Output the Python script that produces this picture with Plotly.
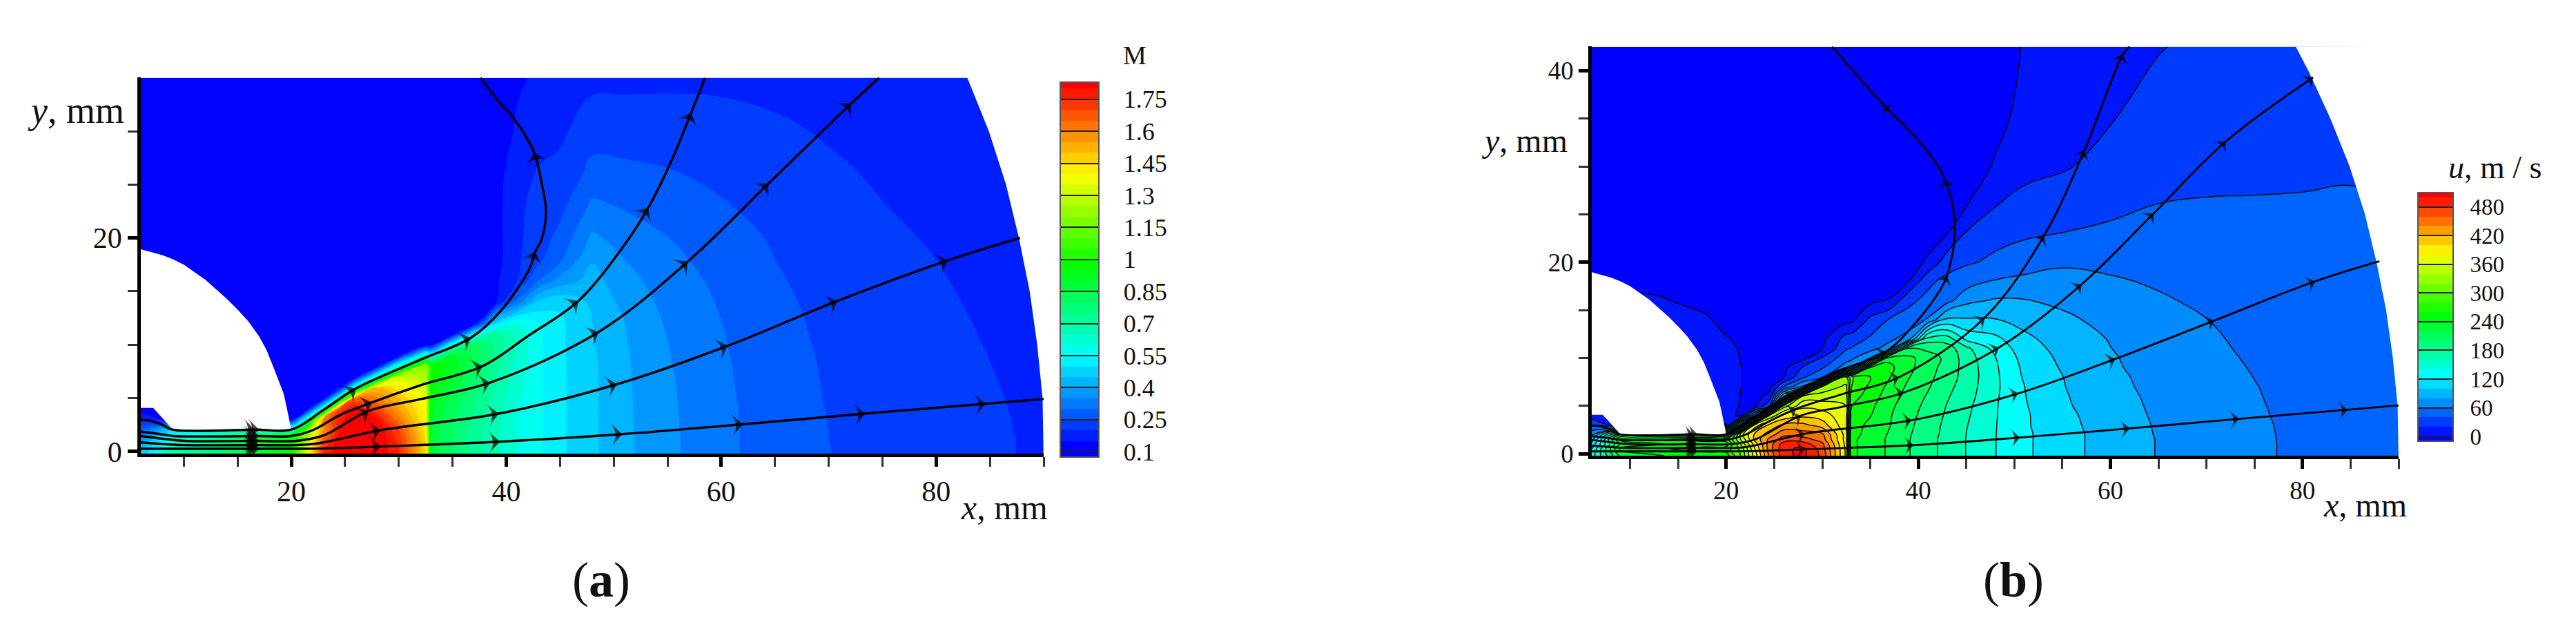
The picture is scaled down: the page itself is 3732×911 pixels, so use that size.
import plotly.graph_objects as go

# ---------- grids (mm) ----------
x_a = [6, 9, 20, 21.5, 23, 24.5, 26, 28, 30, 32.5, 33, 35, 37, 39, 41, 43, 45, 48, 51, 55, 60, 65, 70, 75, 80, 85, 90]
y_a = [-.2, .5, 1, 1.5, 2, 3, 4, 5, 6, 7, 8, 9, 10, 11, 12, 14, 16, 18, 20, 23, 26, 30, 35]

# Mach number, one row per y_a value
mach = [
    [.45, .70, .95, 1.35, 1.75, 1.85, 1.85, 1.85, 1.75, 1.45, .88, .80, .72, .66, .60, .56, .51, .46, .412, .362, .312, .277, .2505, .236, .22, .2065, .193],
    [.42, .65, .95, 1.32, 1.72, 1.85, 1.85, 1.85, 1.75, 1.45, .88, .80, .72, .66, .60, .56, .51, .46, .412, .362, .312, .277, .2505, .236, .22, .2065, .193],
    [.38, .62, .95, 1.28, 1.68, 1.85, 1.85, 1.85, 1.74, 1.45, .88, .80, .72, .66, .60, .56, .51, .46, .412, .362, .312, .277, .25, .236, .22, .2065, .193],
    [.33, .55, .92, 1.22, 1.62, 1.82, 1.85, 1.85, 1.72, 1.44, .88, .80, .72, .66, .60, .56, .51, .46, .412, .362, .312, .277, .25, .236, .22, .2062, .193],
    [.28, .50, .70, 1.18, 1.58, 1.80, 1.85, 1.85, 1.70, 1.42, .88, .80, .73, .66, .60, .56, .51, .46, .411, .361, .312, .277, .25, .2355, .2195, .206, .192],
    [.20, .12, .12, .65, 1.60, 1.78, 1.85, 1.80, 1.62, 1.40, .90, .80, .74, .67, .60, .56, .51, .46, .411, .361, .311, .2765, .249, .235, .219, .2052, .192],
    [.12, .12, .12, .12, .65, 1.72, 1.80, 1.70, 1.55, 1.38, .92, .82, .75, .67, .60, .56, .51, .46, .41, .36, .311, .276, .248, .234, .2185, .2045, .191],
    [.12, .12, .12, .12, .12, .65, 1.65, 1.60, 1.50, 1.35, .95, .85, .76, .68, .61, .56, .51, .46, .41, .359, .31, .2755, .247, .2333, .218, .2035, .191],
    [.12, .12, .12, .12, .12, .12, .65, 1.50, 1.42, 1.30, .97, .87, .78, .69, .62, .56, .51, .46, .409, .358, .309, .275, .246, .2325, .217, .2025, .19],
    [.12, .12, .12, .12, .12, .12, .12, .65, 1.30, 1.25, 1.00, .90, .80, .70, .62, .56, .51, .46, .409, .357, .308, .274, .245, .232, .2162, .2015, .19],
    [.12, .12, .12, .12, .12, .12, .12, .12, .65, 1.20, 1.00, .92, .82, .72, .63, .56, .51, .46, .408, .355, .307, .273, .244, .231, .2155, .2005, .189],
    [.12, .12, .12, .12, .12, .12, .12, .12, .12, .65, .60, .90, .84, .73, .64, .56, .51, .458, .407, .353, .3055, .2715, .2425, .2298, .2143, .1993, .189],
    [.12, .12, .12, .12, .12, .12, .12, .12, .12, .12, .12, .60, .82, .74, .64, .56, .51, .455, .405, .351, .304, .27, .241, .2285, .213, .198, .188],
    [.12, .12, .12, .12, .12, .12, .12, .12, .12, .12, .12, .12, .55, .72, .64, .56, .51, .453, .403, .348, .3025, .268, .2395, .2272, .2118, .1965, .188],
    [.12, .12, .12, .12, .12, .12, .12, .12, .12, .12, .12, .12, .13, .50, .60, .55, .51, .45, .401, .344, .301, .266, .238, .226, .2105, .195, .187],
    [.12, .12, .12, .12, .12, .12, .12, .12, .12, .12, .12, .12, .12, .14, .32, .46, .49, .44, .385, .335, .295, .262, .234, .222, .207, .192, .185],
    [.12, .12, .12, .12, .12, .12, .12, .12, .12, .12, .12, .12, .12, .14, .20, .30, .37, .42, .368, .325, .288, .256, .23, .218, .2035, .189, .183],
    [.12, .12, .12, .12, .12, .12, .12, .12, .12, .12, .12, .12, .12, .13, .19, .24, .29, .395, .35, .313, .28, .25, .226, .213, .20, .186, .181],
    [.12, .12, .12, .12, .12, .12, .12, .12, .12, .12, .12, .12, .12, .13, .19, .225, .265, .36, .328, .301, .27, .245, .222, .208, .196, .183, .179],
    [.12, .12, .12, .12, .12, .12, .12, .12, .12, .12, .12, .12, .12, .13, .19, .215, .235, .31, .295, .276, .254, .235, .215, .201, .19, .179, .175],
    [.12, .12, .12, .12, .12, .12, .12, .12, .12, .12, .12, .12, .12, .13, .18, .205, .215, .265, .262, .254, .24, .224, .207, .195, .185, .175, .171],
    [.12, .12, .12, .12, .12, .12, .12, .12, .12, .12, .12, .12, .12, .125, .155, .18, .19, .23, .228, .224, .218, .207, .196, .186, .178, .17, .167],
    [.12, .12, .12, .12, .12, .12, .12, .12, .12, .12, .12, .12, .12, .12, .145, .155, .165, .185, .187, .19, .19, .187, .182, .176, .17, .164, .16],
]

x_b = [6, 9, 12, 15, 18, 20, 21.5, 23, 24.5, 26, 28, 30, 32.5, 33, 35, 37, 39, 41, 43, 45, 48, 51, 55, 60, 65, 70, 75, 80, 85, 90]
y_b = [-.2, .5, 1, 1.5, 2, 3, 4, 5, 6, 7, 8, 9, 10, 11, 12, 14, 16, 18, 20, 23, 26, 30, 35, 42.5]

# axial velocity, one column per x_b value
velocity = [
    [130, 120.5, 105, 90, 75, 40.5, 10, -6, -6, -6, -6, -6, -6, -6, -6, -6, -6, -6, -6, -6, -6, -6, -6, -6],
    [225, 245, 225, 245, 200, 6, 6, 6, 6, 6, 6, 6, 6, 6, 6, 3, 3, -6, -6, -6, -6, -6, -6, -6],
    [235, 255, 235, 255, 200, 6, 6, 6, 6, 6, 6, 6, 6, 6, 6, 6, 3, -6, -6, -6, -6, -6, -6, -6],
    [245, 262, 245, 262, 200, 6, 6, 6, 6, 6, 6, 6, 6, 6, 6, 5, -1, -6, -6, -6, -6, -6, -6, -6],
    [250, 268, 250, 268, 200, 6, 6, 6, 6, 6, 6, 6, 6, 6, 6, 2, -6, -6, -6, -6, -6, -6, -6, -6],
    [250, 270, 250, 270, 200, -1, 6, 8, 12, 14, 15, 15, 12, 8, 1, -6, -6, -6, -6, -6, -6, -6, -6, -6],
    [300, 305, 320, 340, 350, 150, -3, -1.5, -.5, .3, .5, .3, -1, -3, -3, -6, -6, -6, -6, -6, -6, -6, -6, -6],
    [370, 380, 390, 405, 405, 370, 100, -5, -6, -6, -6, -6, -6, -6, -6, -6, -6, -6, -6, -6, -6, -6, -6, -6],
    [445, 450, 450, 445, 430, 405, 340, 40, 5, -6, -6, -6, -6, -6, -6, -6, -6, -6, -6, -6, -6, -6, -6, -6],
    [495, 495, 490, 470, 455, 425, 385, 330, 120, 40, 0, -6, -6, -6, -6, -6, -6, -6, -6, -6, -6, -6, -6, -6],
    [505, 505, 490, 470, 450, 425, 395, 375, 345, 85, 37, 22, -6, -6, -6, -6, -6, -6, -6, -6, -6, -6, -6, -6],
    [475, 470, 465, 450, 445, 410, 390, 370, 350, 325, 55, 38, 22, -2, -6, -6, -6, -6, -6, -6, -6, -6, -6, -6],
    [375, 375, 372, 370, 370, 365, 365, 360, 350, 345, 325, 70, 52, 38, 28, -6, -6, -6, -6, -6, -6, -6, -6, -6],
    [245, 245, 245, 245, 248, 250, 255, 261, 270, 281, 285, 75, 55, 41, 30, -6, -6, -6, -6, -6, -6, -6, -6, -6],
    [230, 230, 230, 230, 232, 235, 241, 245, 250, 255, 261, 242, 81, 52, 43, 25, -6, -6, -6, -6, -6, -6, -6, -6],
    [217, 217, 217, 217, 218, 221, 222, 225, 230, 235, 241, 245, 235, 70, 55, 42, 1, -6, -6, -6, -6, -6, -6, -6],
    [201, 201, 201, 201, 202, 204, 206, 208, 212, 216, 221, 225, 225, 201, 70, 47, 36, 0, -6, -6, -6, -6, -6, -6],
    [187, 187, 187, 187, 188, 190, 192, 195, 198, 202, 205, 208, 210, 195, 170, 62, 45, 36, 2, -6, -6, -6, -6, -6],
    [173, 173, 173, 173, 174, 175, 177, 179, 182, 186, 190, 192, 195, 190, 170, 105, 53, 45, 32, -1, -6, -6, -6, -6],
    [159.5, 159.5, 159.5, 159.5, 159.8, 161, 163, 165, 168, 170, 172, 172, 170, 165, 135, 102, 75, 50, 38, 22, -1, -6, -6, -6],
    [140.5, 140.5, 140.5, 140.5, 140.7, 141, 141.5, 142, 143, 144, 144, 143, 141, 133, 125, 101, 82, 62, 43, 35, 19, 1, -3, -8],
    [124, 124, 124, 124, 124, 123, 123, 122, 121, 120.5, 118, 116, 113, 110, 105, 93, 81, 67, 47, 38, 27, 13, 3, 1],
    [107, 107, 107, 107, 107, 106, 105, 103, 102, 101, 100.4, 98, 96, 93, 90, 84, 76, 67, 57, 40.3, 31, 18, 9, 4],
    [92, 92, 92, 92, 92, 91, 90, 89, 88, 86, 85, 83, 82, 80.3, 79, 74, 68, 62, 56, 44, 35, 27, 19, 10],
    [79, 79, 79, 79, 78.5, 78, 77, 76, 75, 74, 73, 72, 71, 70, 68, 66, 62, 58, 54, 46, 40.3, 33, 27, 19],
    [70, 70, 70, 70, 69.5, 69, 68.5, 68, 67.5, 67, 66, 65, 64, 63, 62.2, 60.2, 57, 54, 50.5, 46, 41, 36, 31, 24],
    [63, 63, 63, 62.9, 62.8, 62.5, 62, 61.5, 61, 60.5, 59.8, 59, 58.2, 57.4, 56.6, 55, 53, 51, 48, 45, 41, 37, 33, 27],
    [56.5, 56.5, 56.5, 56.5, 56.4, 56.2, 55.8, 55.5, 55.1, 54.7, 54.3, 53.8, 53.3, 52.7, 52.1, 50.5, 49, 47.4, 45.7, 43.3, 41, 38, 35, 29],
    [51.5, 51.5, 51.5, 51.5, 51.4, 51.2, 50.9, 50.6, 50.3, 50.1, 49.7, 49.4, 49.1, 48.7, 48.3, 47.4, 46.5, 45.5, 44.4, 42.6, 41, 39, 36, 30],
    [47, 47, 47, 47, 47, 47, 47, 46.7, 46.5, 46.3, 46.1, 45.9, 45.6, 45.3, 45, 44.4, 43.8, 43, 42, 41, 40.2, 38, 35, 30],
]

# solid wall and outer boundary of the domain
wall_x = [6, 7, 8, 9, 10, 11, 12, 13, 14, 15, 16, 17, 17.7, 18.3, 18.8, 19.3, 19.6, 19.8, 20, 9, 7.15, 6]
wall_y = [18.95, 18.7, 18.4, 18, 17.5, 16.8, 16.1, 15.2, 14.3, 13.3, 12.2, 10.8, 9.5, 8, 6.7, 5.4, 4, 3, 2.03, 2.03, 4.08, 4.08]
outer_x = [79.3, 80.6, 82.9, 84.9, 86.5, 87.7, 88.7, 89.4, 89.9, 90, 90, 96, 96]
outer_y = [42.5, 40, 35, 30, 25, 20, 15, 10, 5, 0, -1, -1, 42.6]

# streamlines: x, y, indices of the points carrying an arrowhead
stream_a = [
    ([6, 7, 8, 8.9, 16.6, 17, 20, 23, 26, 31.9, 36.7, 39.6, 42.2, 42.7, 43.3, 43.7, 43.3, 42.6, 40.7, 39.3, 37.6],
     [2.95, 2.85, 2.5, 2.05, 2.05, 2.05, 2.05, 3.9, 5.9, 8.55, 10.65, 13.3, 17.2, 18.7, 19.9, 22.5, 25.1, 28, 31.2, 32.8, 35],
     [4, 5, 8, 10, 13, 17]),
    ([6, 8, 9, 16.6, 17, 20, 22, 24.5, 27.5, 32, 37.8, 42, 46.7, 50.6, 53.2, 55.4, 57.2, 58.5],
     [1.85, 1.6, 1.45, 1.45, 1.45, 1.45, 2.0, 3.4, 4.6, 6.2, 8.0, 10.8, 14.1, 18.8, 22.8, 27.3, 31.7, 35],
     [3, 4, 8, 10, 12, 14, 16]),
    ([6, 8, 10, 16.6, 17, 20.5, 23, 27.2, 32, 38.5, 48.6, 56.9, 64.4, 72.1, 74.7],
     [1.45, 1.2, 1.0, 1.0, 1.0, 1.0, 1.5, 3.8, 4.9, 6.45, 11.2, 17.8, 25.1, 32.6, 35],
     [3, 4, 7, 9, 10, 11, 12, 13]),
    ([6, 8, 10, 16.6, 17, 22, 28.3, 39.3, 50.3, 60.6, 70.8, 81.1, 87.8],
     [.85, .7, .6, .6, .6, .7, 2.0, 3.55, 6.3, 9.9, 14.1, 17.9, 20],
     [3, 4, 6, 7, 8, 9, 10, 11]),
    ([6, 16.6, 17, 23, 28.3, 39.4, 50.8, 62, 73.4, 84.6, 90],
     [.25, .25, .25, .28, .47, .92, 1.63, 2.55, 3.55, 4.47, 4.92],
     [1, 2, 4, 5, 6, 7, 8, 9]),
]
stream_b = [
    ([6, 7, 8, 8.9, 16.6, 17, 20, 23, 27, 31, 36.6, 40, 42.2, 43, 43.8, 42.8, 40.1, 36.4, 31],
     [2.95, 2.85, 2.5, 2.05, 2.05, 2.05, 2.05, 3.9, 6.3, 8.4, 10.65, 14, 17, 18.6, 23.3, 28.6, 32.6, 36.4, 42.5],
     [4, 5, 8, 10, 13, 15, 17]),
    ([6, 8, 9, 16.6, 17, 20, 22, 24.5, 27.3, 32, 38, 46.9, 53.1, 57.3, 61.3, 62],
     [1.85, 1.6, 1.45, 1.45, 1.45, 1.45, 2.0, 3.4, 4.7, 6.2, 8, 14.2, 22.8, 31.7, 41.7, 42.5],
     [3, 4, 8, 10, 11, 12, 13, 14]),
    ([6, 8, 10, 16.6, 17, 20.5, 23, 27.8, 32, 38.5, 48.4, 57, 64.5, 72, 81.1],
     [1.45, 1.2, 1.0, 1.0, 1.0, 1.0, 1.5, 4, 4.9, 6.4, 11.1, 17.7, 25.1, 32.6, 39.3],
     [3, 4, 7, 9, 10, 11, 12, 13, 14]),
    ([6, 8, 10, 16.6, 17, 22, 28.2, 39.3, 50.4, 60.5, 70.8, 81.3, 88],
     [.85, .7, .6, .6, .6, .7, 2.1, 3.5, 6.3, 9.9, 13.9, 18, 20.1],
     [3, 4, 6, 7, 8, 9, 10, 11]),
    ([6, 16.6, 17, 23, 28.2, 39.5, 50.6, 62, 73.4, 84.7, 90],
     [.25, .25, .25, .28, .47, .9, 1.7, 2.65, 3.65, 4.6, 5.05],
     [1, 2, 4, 5, 6, 7, 8, 9]),
]

# colour bar ticks
mach_ticks = [.1, .25, .4, .55, .7, .85, 1, 1.15, 1.3, 1.45, 1.6, 1.75]
mach_labels = ["0.1", "0.25", "0.4", "0.55", "0.7", "0.85", "1", "1.15", "1.3", "1.45", "1.6", "1.75"]
u_ticks = [0, 60, 120, 180, 240, 300, 360, 420, 480]

W, H = 3732, 911
FONT = "Liberation Serif"
rainbow = ["#0000ff", "#00ffff", "#00ff00", "#ffff00", "#ff0000"]


def spectrum(zmin, zmax, stops):
    # rainbow pinned at the given values, flat blue below the first one
    out = [[0, rainbow[0]]]
    for v, c in zip(stops, rainbow):
        out.append([(v - zmin) / (zmax - zmin), c])
    return out + [[1, rainbow[-1]]]


fig = go.Figure()


def white_out(xa, ya):
    # hide the field on the wall and outside the outer boundary
    for px, py in [(wall_x, wall_y), (outer_x, outer_y)]:
        fig.add_trace(go.Scatter(x=px, y=py, xaxis=xa, yaxis=ya, mode="lines", fill="toself",
                                 fillcolor="white", line=dict(width=0), hoverinfo="skip", showlegend=False))


def draw_streams(lines, xa, ya, width, arrow):
    for sx, sy, marks in lines:
        sizes = [arrow if i in marks else 0 for i in range(len(sx))]
        fig.add_trace(go.Scatter(x=sx, y=sy, xaxis=xa, yaxis=ya, mode="lines+markers",
                                 line=dict(color="black", width=width, shape="spline"),
                                 marker=dict(symbol="arrow-wide", size=sizes, color="black", angleref="previous",
                                             line=dict(width=0)),
                                 hoverinfo="skip", showlegend=False))


# panel (a): Mach number
fig.add_trace(go.Contour(
    x=x_a, y=y_a, z=mach, xaxis="x", yaxis="y", zmin=.076, zmax=1.83,
    colorscale=spectrum(.076, 1.83, [.125, .55, .975, 1.4, 1.82]),
    autocontour=False, contours=dict(start=.1, end=1.8, size=.05, coloring="fill", showlines=False),
    line=dict(width=0, smoothing=1.3), hoverinfo="skip",
    colorbar=dict(x=1536 / W, xanchor="left", xpad=0, y=1 - 662 / H, yanchor="bottom", ypad=0,
                  len=543, lenmode="pixels", thickness=56, thicknessmode="pixels",
                  outlinecolor="#555555", outlinewidth=2, ticks="inside", ticklen=56, tickwidth=2, tickcolor="#222222",
                  tickvals=mach_ticks, ticktext=["\u00a0\u00a0\u00a0" + t for t in mach_labels],
                  tickfont=dict(family=FONT, size=36, color="#111111")),
))
white_out("x", "y")
draw_streams(stream_a, "x", "y", 3.4, 24)

# panel (b): axial velocity
fig.add_trace(go.Contour(
    x=x_b, y=y_b, z=velocity, transpose=True, xaxis="x2", yaxis="y2", zmin=-10, zmax=510,
    colorscale=spectrum(-10, 510, [0, 127.5, 255, 382.5, 505]),
    autocontour=False, contours=dict(start=0, end=500, size=20, coloring="fill", showlines=False),
    line=dict(width=0, smoothing=1.3), hoverinfo="skip",
    colorbar=dict(x=3503 / W, xanchor="left", xpad=0, y=1 - 639 / H, yanchor="bottom", ypad=0,
                  len=360, lenmode="pixels", thickness=51, thicknessmode="pixels",
                  outlinecolor="#555555", outlinewidth=2, ticks="inside", ticklen=51, tickwidth=2, tickcolor="#222222",
                  tickvals=u_ticks, ticktext=["\u00a0\u00a0" + str(t) for t in u_ticks],
                  tickfont=dict(family=FONT, size=33, color="#111111")),
))
fig.add_trace(go.Contour(
    x=x_b, y=y_b, z=velocity, transpose=True, xaxis="x2", yaxis="y2", showscale=False, hoverinfo="skip",
    autocontour=False, contours=dict(start=0, end=500, size=20, coloring="lines"),
    colorscale=[[0, "#0a0a0a"], [1, "#0a0a0a"]], line=dict(width=1.5, smoothing=1.3),
))
white_out("x2", "y2")
draw_streams(stream_b, "x2", "y2", 2.8, 20)


def axis(domain, rng, major, minor, size, **kw):
    return dict(domain=domain, range=rng, tickvals=major, ticks="outside", ticklen=14, tickwidth=4.5, tickcolor="black",
                minor=dict(tickvals=minor, ticks="outside", ticklen=14, tickwidth=2.5, tickcolor="#333333"),
                showline=True, linecolor="black", linewidth=4.5, showgrid=False, zeroline=False,
                tickfont=dict(family=FONT, size=size, color="#111111"), **kw)


fig.update_layout(
    width=W, height=H, margin=dict(l=0, r=0, t=0, b=0, autoexpand=False), autosize=False,
    paper_bgcolor="white", plot_bgcolor="white", showlegend=False,
    xaxis=axis([204 / W, 1512 / W], [6, 90], [20, 40, 60, 80], [10, 15, 25, 30, 35, 45, 50, 55, 65, 70, 75, 85, 90], 42, anchor="y"),
    yaxis=axis([1 - 657 / H, 1 - 112 / H], [-.2, 35.05], [0, 20], [5, 10, 15, 25, 30], 42, anchor="x"),
    xaxis2=axis([2306 / W, 3475 / W], [6, 90], [20, 40, 60, 80], [10, 15, 25, 30, 35, 45, 50, 55, 65, 70, 75, 85, 90], 37, anchor="y2"),
    yaxis2=axis([1 - 660 / H, 1 - 67 / H], [-.2, 42.55], [0, 20, 40], [5, 10, 15, 25, 30, 35], 37, anchor="x2"),
)


def label(text, px, py, size, anchor="center"):
    fig.add_annotation(text=text, xref="paper", yref="paper", x=px / W, y=1 - py / H, xanchor=anchor, yanchor="middle",
                       showarrow=False, font=dict(family=FONT, size=size, color="#111111"))


label("<i>y</i>, mm", 110, 160, 54)
label("<i>x</i>, mm", 1455, 735, 50)
label("M", 1644, 80, 38)
label("<i>y</i>, mm", 2208, 203, 48)
label("<i>x</i>, mm", 3426, 731, 48)
label("<i>u</i>, m / s", 3614, 242, 46)
label("(<b>a</b>)", 871, 840, 72)
label("(<b>b</b>)", 2917, 840, 72)

fig.write_html("out.html", config=dict(displayModeBar=False), post_script="document.body.style.margin='0';")
